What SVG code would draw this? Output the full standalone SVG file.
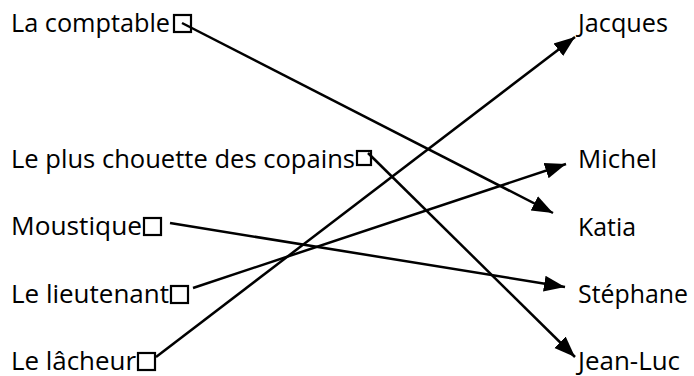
<svg xmlns="http://www.w3.org/2000/svg" width="694" height="376" viewBox="0 0 694 376">
<style>
text{font-family:"Open Sans","Liberation Sans",sans-serif;font-size:25.5px;fill:#000}
.box{fill:none;stroke:#000;stroke-width:2.2}
.c{stroke:#000;stroke-width:2.5;fill:none;marker-end:url(#ah)}
</style>
<defs>
<marker id="ah" markerUnits="userSpaceOnUse" markerWidth="24" markerHeight="18" refX="21" refY="8" orient="auto" viewBox="0 0 24 16">
<path d="M0,0 L21,8 L0,16 Z" fill="#000"/>
</marker>
</defs>
<rect width="694" height="376" fill="#fff"/>
<g id="l1"><text x="11" y="32" textLength="159" lengthAdjust="spacingAndGlyphs">La comptable</text><rect class="box" x="174" y="15" width="17" height="17"/></g>
<g id="l2"><text x="11" y="168" textLength="344" lengthAdjust="spacingAndGlyphs">Le plus chouette des copains</text><rect class="box" x="357" y="151" width="14" height="14"/></g>
<g id="l3"><text x="11" y="235" textLength="131" lengthAdjust="spacingAndGlyphs">Moustique</text><rect class="box" x="144" y="218" width="17" height="17"/></g>
<g id="l4"><text x="11" y="303" textLength="158" lengthAdjust="spacingAndGlyphs">Le lieutenant</text><rect class="box" x="171" y="286" width="17" height="17"/></g>
<g id="l5"><text x="11" y="370" textLength="125" lengthAdjust="spacingAndGlyphs">Le lâcheur</text><rect class="box" x="138" y="353" width="17" height="17"/></g>
<g id="r1"><text x="578" y="32" textLength="90" lengthAdjust="spacingAndGlyphs">Jacques</text></g>
<g id="r2"><text x="578" y="168" textLength="79" lengthAdjust="spacingAndGlyphs">Michel</text></g>
<g id="r3"><text x="578" y="236" textLength="58" lengthAdjust="spacingAndGlyphs">Katia</text></g>
<g id="r4"><text x="578" y="303" textLength="110" lengthAdjust="spacingAndGlyphs">Stéphane</text></g>
<g id="r5"><text x="578" y="370" textLength="102" lengthAdjust="spacingAndGlyphs">Jean-Luc</text></g>
<g id="connectors">
<line class="c" x1="182" y1="23" x2="553" y2="213"/>
<line class="c" x1="368" y1="153" x2="575" y2="357"/>
<line class="c" x1="170" y1="223" x2="565" y2="287"/>
<line class="c" x1="193" y1="288" x2="566" y2="164"/>
<line class="c" x1="156" y1="357" x2="575" y2="37"/>
</g>
</svg>
